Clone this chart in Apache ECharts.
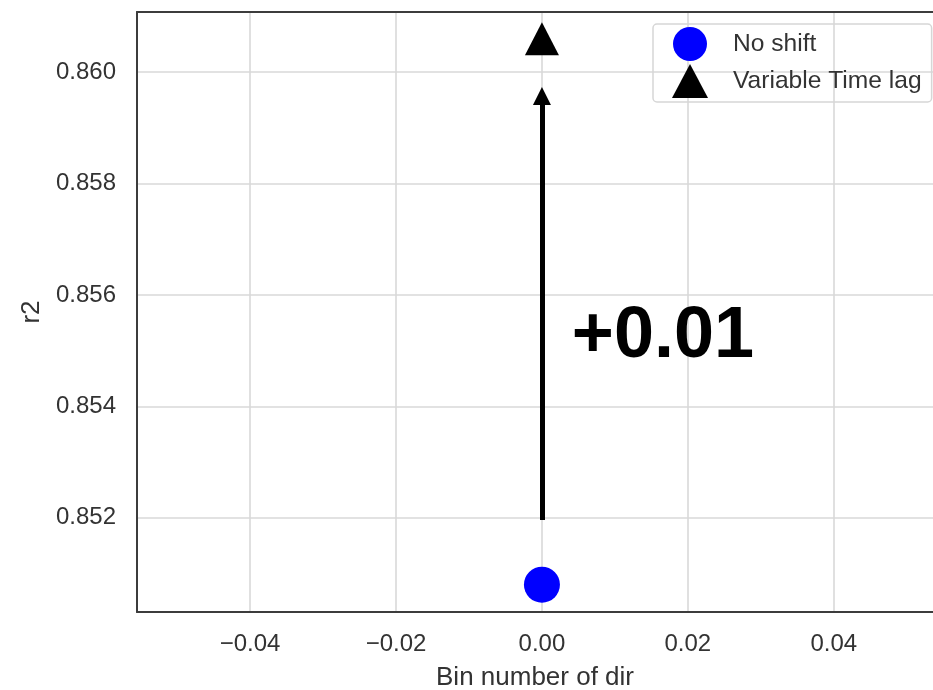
<!DOCTYPE html>
<html>
<head>
<meta charset="utf-8">
<script src="https://cdn.jsdelivr.net/npm/echarts@6/dist/echarts.min.js"></script>
<style>html,body{margin:0;padding:0;background:#fff;}#c{width:933px;height:690px;}</style>
</head>
<body>
<div id="c"></div>
<script>
const seriesNames = ['No shift', 'Variable Time lag'];
const binValues = [0.0, 0.0];
const r2Values = [0.8508, 0.8606];
const xTicks = [-0.04, -0.02, 0.00, 0.02, 0.04];
const yTicks = [0.852, 0.854, 0.856, 0.858, 0.860];
const xRange = [-0.0555, 0.0536];   // right part of the original plot is cropped
const yRange = [0.85031, 0.86108];
const arrowFrom = [0.0, 0.85196];
const arrowTo = [0.0, 0.85957];
const annotationText = '+0.01';
const annotationAt = [0.0041, 0.85524];

const font = 'Liberation Sans, Arial, sans-serif';
const frameColor = '#3c3c3c';
const chart = echarts.init(document.getElementById('c'), null, {renderer: 'canvas'});
const fmtMinus = (v, d) => (v < 0 ? '\u2212' : '') + Math.abs(v).toFixed(d);

chart.setOption({
  animation: false,
  backgroundColor: '#fff',
  grid: {left: 137, top: 12, bottom: 78, right: 0, containLabel: false, outerBoundsMode: 'none', show: false},
  legend: {
    left: 653, top: 24, orient: 'vertical',
    padding: [3, 10, 4, 19],
    itemWidth: 36, itemHeight: 34, itemGap: 3,
    borderColor: '#d6d6d6', borderWidth: 1.5, borderRadius: 4,
    textStyle: {fontFamily: font, fontSize: 24.6, color: '#333', padding: [0, 0, 0, 20]},
    data: seriesNames
  },
  xAxis: [{
    type: 'value', min: xRange[0], max: xRange[1], position: 'bottom',
    name: 'Bin number of dir', nameLocation: 'middle', nameGap: 53,
    nameTextStyle: {fontFamily: font, fontSize: 26, color: '#333'},
    axisLine: {show: true, onZero: false, lineStyle: {color: frameColor, width: 2}},
    axisTick: {show: false, customValues: xTicks},
    axisLabel: {customValues: xTicks, margin: 20, fontFamily: font, fontSize: 24, color: '#333', formatter: v => fmtMinus(v, 2)},
    splitLine: {show: true, lineStyle: {color: '#d9d9d9', width: 1.6}}
  }, {
    type: 'value', min: xRange[0], max: xRange[1], position: 'top',
    axisLine: {show: true, onZero: false, lineStyle: {color: frameColor, width: 2}},
    axisTick: {show: false}, axisLabel: {show: false}, splitLine: {show: false}
  }],
  yAxis: {
    type: 'value', min: yRange[0], max: yRange[1],
    name: 'r2', nameLocation: 'middle', nameGap: 92,
    nameTextStyle: {fontFamily: font, fontSize: 26, color: '#333'},
    axisLine: {show: true, onZero: false, lineStyle: {color: frameColor, width: 2}},
    axisTick: {show: false, customValues: yTicks},
    axisLabel: {customValues: yTicks, margin: 21, fontFamily: font, fontSize: 24, color: '#333', formatter: v => v.toFixed(3)},
    splitLine: {show: true, lineStyle: {color: '#d9d9d9', width: 1.6}}
  },
  series: [
    {
      name: seriesNames[0], type: 'scatter', symbol: 'circle', symbolSize: 36,
      itemStyle: {color: '#0000ff', opacity: 1},
      data: [[binValues[0], r2Values[0]]], z: 3,
      markLine: {
        silent: true, symbol: ['none', 'triangle'], symbolSize: [18, 18],
        lineStyle: {color: '#000', width: 5, type: 'solid'},
        label: {show: false},
        data: [[{coord: arrowFrom}, {coord: arrowTo}]]
      },
      markPoint: {
        silent: true, symbol: 'circle', symbolSize: 0,
        label: {show: true, position: 'right', distance: 0, formatter: annotationText,
                fontFamily: font, fontWeight: 'bold', fontSize: 72, color: '#000'},
        data: [{coord: annotationAt}]
      }
    },
    {
      name: seriesNames[1], type: 'scatter', symbol: 'triangle', symbolSize: [34, 33],
      itemStyle: {color: '#000', opacity: 1},
      data: [[binValues[1], r2Values[1]]], z: 3
    }
  ]
});
</script>
</body>
</html>
